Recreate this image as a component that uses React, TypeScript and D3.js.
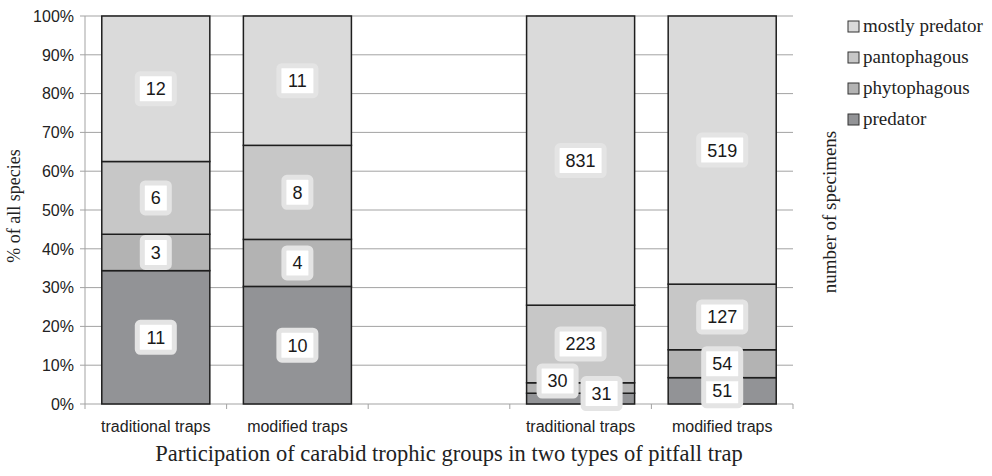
import React from "react";
import * as d3 from "d3";

const categories = ["traditional traps", "modified traps", "", "traditional traps", "modified traps"];
const groupKeys = ["predator", "phytophagous", "pantophagous", "mostly predator"];
const predator = [11, 10, 0, 31, 51];
const phytophagous = [3, 4, 0, 30, 54];
const pantophagous = [6, 8, 0, 223, 127];
const mostlyPredator = [12, 11, 0, 831, 519];
const yTickValues = [0, 0.1, 0.2, 0.3, 0.4, 0.5, 0.6, 0.7, 0.8, 0.9, 1];
const titleText = "Participation of carabid trophic groups in two types of pitfall trap";
const leftTitle = "% of all species";
const rightTitle = "number of specimens";

const colors: Record<string, string> = {
  predator: "#929396",
  phytophagous: "#b3b3b3",
  pantophagous: "#c7c7c7",
  "mostly predator": "#dadada",
};

// label nudges to avoid overlap (category index - group index)
const labelShift: Record<string, [number, number]> = {
  "3-1": [-23, -7],
  "3-0": [21, -5],
};

const W = 992, H = 476;
const M = { left: 85, right: 793, top: 16, bottom: 404 };
const sans = "Liberation Sans, Arial, sans-serif";
const serif = "Liberation Serif, DejaVu Serif, serif";

export default function App() {
  const rows = categories.map((c, i) => ({
    idx: i,
    predator: predator[i],
    phytophagous: phytophagous[i],
    pantophagous: pantophagous[i],
    "mostly predator": mostlyPredator[i],
  }));
  const series = d3.stack<any>().keys(groupKeys).offset(d3.stackOffsetExpand)(rows);
  const x = d3.scaleBand<number>().domain(categories.map((_, i) => i)).range([M.left, M.right]).padding(0);
  const y = d3.scaleLinear().domain([0, 1]).range([M.bottom, M.top]);
  const bw = x.bandwidth() * 0.763;
  const fmt = d3.format(".0%");
  const boundaries = categories.map((_, i) => x(i)!).concat([M.right]);

  const legendOrder = [...groupKeys].reverse();

  return (
    <svg width={W} height={H} style={{ position: "absolute", left: 0, top: 0, background: "#fff" }}>
      {/* gridlines */}
      {yTickValues.map((t) => (
        <line key={"g" + t} x1={M.left - 5} x2={M.right} y1={y(t)} y2={y(t)} stroke="#a3a3a3" strokeWidth={1} />
      ))}
      <line x1={M.left} x2={M.left} y1={M.top} y2={M.bottom} stroke="#a3a3a3" strokeWidth={1} />
      {boundaries.map((b, i) => (
        <line key={"xt" + i} x1={b} x2={b} y1={M.bottom} y2={M.bottom + 5} stroke="#a3a3a3" strokeWidth={1} />
      ))}
      {yTickValues.map((t) => (
        <text key={"yl" + t} x={74} y={y(t)} dy="0.36em" textAnchor="end" style={{ fontFamily: sans }} fontSize={16} fill="#222">
          {fmt(t)}
        </text>
      ))}
      {/* bars */}
      {series.map((s) =>
        s.map((d, i) => {
          const total = predator[i] + phytophagous[i] + pantophagous[i] + mostlyPredator[i];
          if (!total) return null;
          const cx = x(i)! + x.bandwidth() / 2;
          return (
            <rect key={s.key + i} x={cx - bw / 2} width={bw} y={y(d[1])} height={y(d[0]) - y(d[1])}
              fill={colors[s.key]} stroke="#1e1e1e" strokeWidth={1.5} />
          );
        })
      )}
      {/* labels */}
      {series.map((s, gi) =>
        s.map((d, i) => {
          const v = (d.data as any)[s.key] as number;
          if (!v) return null;
          const cx = x(i)! + x.bandwidth() / 2;
          const cy = (y(d[0]) + y(d[1])) / 2;
          const sh = labelShift[i + "-" + gi] || [0, 0];
          const txt = String(v);
          const tw = txt.length * 0.556 * 18;
          const rw = tw + 17, rh = 30;
          const lx = cx + sh[0], ly = cy + sh[1];
          return (
            <g key={"l" + s.key + i}>
              <rect x={lx - rw / 2} y={ly - rh / 2} width={rw} height={rh} rx={3} fill="#fff" stroke="#e4e4e4" strokeWidth={5} />
              <text x={lx} y={ly} dy="0.36em" textAnchor="middle" style={{ fontFamily: sans }} fontSize={18} fill="#1a1a1a">{txt}</text>
            </g>
          );
        })
      )}
      {/* category labels */}
      {categories.map((c, i) => (
        <text key={"c" + i} x={x(i)! + x.bandwidth() / 2} y={432} textAnchor="middle" style={{ fontFamily: sans }} fontSize={16} fill="#222">
          {c}
        </text>
      ))}
      {/* titles */}
      <text x={449} y={461} textAnchor="middle" style={{ fontFamily: serif }} fontSize={22.5} fill="#222">{titleText}</text>
      <text transform={`translate(20,206) rotate(-90)`} textAnchor="middle" style={{ fontFamily: serif }} fontSize={18} fill="#222">{leftTitle}</text>
      <text transform={`translate(836,212) rotate(-90)`} textAnchor="middle" style={{ fontFamily: serif }} fontSize={19} fill="#222">{rightTitle}</text>
      {/* legend */}
      {legendOrder.map((k, i) => (
        <g key={"lg" + k} transform={`translate(848,${26 + i * 31})`}>
          <rect x={0} y={-5} width={11} height={11} fill={colors[k]} stroke="#333" strokeWidth={1} />
          <text x={15} y={6} style={{ fontFamily: serif }} fontSize={19} fill="#222">{k}</text>
        </g>
      ))}
    </svg>
  );
}
